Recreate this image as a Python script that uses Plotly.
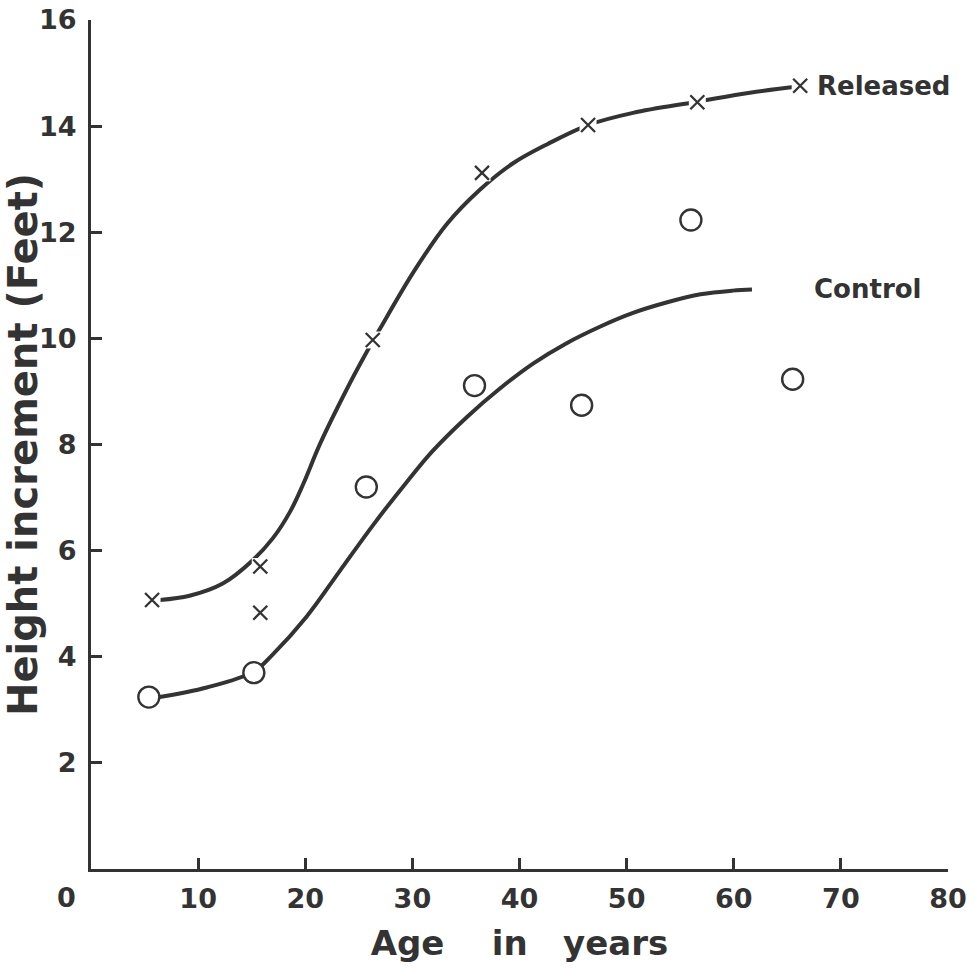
import plotly.graph_objects as go

# ---- data ----
released_x = [5.7, 15.8, 15.8, 26.3, 36.5, 46.4, 56.6, 66.2]
released_y = [5.07, 5.70, 4.83, 9.97, 13.12, 14.02, 14.45, 14.76]

control_x = [5.4, 15.2, 25.7, 35.8, 45.8, 56.0, 65.5]
control_y = [3.24, 3.70, 7.20, 9.11, 8.74, 12.23, 9.23]

released_curve_x = [6.4, 9.2, 12.3, 15.1, 17.0, 18.6, 19.8, 21.4, 23.9, 25.4, 27.0,
                    30.1, 33.2, 36.3, 39.4, 42.6, 46.4, 50.6, 56.6, 61.5, 66.2]
released_curve_y = [5.07, 5.15, 5.38, 5.82, 6.24, 6.74, 7.25, 8.02, 9.05, 9.62, 10.19,
                    11.25, 12.15, 12.80, 13.30, 13.66, 14.02, 14.25, 14.46, 14.63, 14.75]

control_curve_x = [6.4, 10.8, 15.2, 17.0, 20.1, 23.2, 26.4, 29.5, 31.9, 35.1, 38.2,
                   41.3, 44.4, 47.5, 50.6, 53.8, 56.9, 59.9, 61.7]
control_curve_y = [3.24, 3.42, 3.72, 4.05, 4.75, 5.61, 6.50, 7.30, 7.88, 8.52, 9.06,
                   9.53, 9.91, 10.22, 10.48, 10.68, 10.83, 10.90, 10.92]

x_ticks = [10, 20, 30, 40, 50, 60, 70, 80]
y_ticks = [2, 4, 6, 8, 10, 12, 14, 16]

INK = "#333333"
FONT = "DejaVu Sans"

fig = go.Figure()

fig.add_trace(go.Scatter(x=released_curve_x, y=released_curve_y, mode="lines",
                         line=dict(color=INK, width=4, shape="spline", smoothing=1.0),
                         hoverinfo="skip", showlegend=False))
fig.add_trace(go.Scatter(x=control_curve_x, y=control_curve_y, mode="lines",
                         line=dict(color=INK, width=4, shape="spline", smoothing=1.0),
                         hoverinfo="skip", showlegend=False))
# white halo behind crosses (the drawn line is broken at each cross)
fig.add_trace(go.Scatter(x=released_x, y=released_y, mode="markers",
                         marker=dict(symbol="square", size=17, color="white", line=dict(width=0)),
                         hoverinfo="skip", showlegend=False))
fig.add_trace(go.Scatter(x=released_x, y=released_y, mode="markers", name="Released",
                         marker=dict(symbol="x-thin", size=14, line=dict(color=INK, width=2.3)),
                         showlegend=False))
fig.add_trace(go.Scatter(x=control_x, y=control_y, mode="markers", name="Control",
                         marker=dict(symbol="circle", size=21, color="white",
                                     line=dict(color=INK, width=2.4)),
                         showlegend=False))

axis_common = dict(showgrid=False, zeroline=False, showline=True, linecolor=INK, linewidth=3,
                   ticks="inside", ticklen=11, tickwidth=3, tickcolor=INK,
                   tickfont=dict(family=FONT, size=27, color=INK, weight="bold"),
                   mirror=False, automargin=False)

fig.update_layout(
    width=975, height=978,
    margin=dict(l=91, r=27, t=20, b=109),
    paper_bgcolor="white", plot_bgcolor="white",
    xaxis=dict(range=[0, 80], tickvals=x_ticks, ticktext=[str(v) for v in x_ticks],
               ticklabelstandoff=4,
               title=dict(text="Age\u00a0\u00a0\u00a0\u00a0in\u00a0\u00a0\u00a0years",
                          font=dict(family=FONT, size=34, color=INK, weight="bold"),
                          standoff=18),
               **axis_common),
    yaxis=dict(range=[0, 16], tickvals=y_ticks, ticktext=[str(v) for v in y_ticks],
               ticklabelstandoff=6,
               title=dict(text="Height increment (Feet)",
                          font=dict(family=FONT, size=40, color=INK, weight="bold"),
                          standoff=4),
               **axis_common),
    annotations=[
        dict(x=0, y=0, xref="x", yref="y", text="0", showarrow=False,
             xanchor="center", yanchor="middle", xshift=-25, yshift=-28,
             font=dict(family=FONT, size=27, color=INK, weight="bold")),
        dict(x=67.6, y=14.76, xref="x", yref="y", text="Released", showarrow=False,
             xanchor="left", yanchor="middle",
             font=dict(family=FONT, size=26, color=INK, weight="bold")),
        dict(x=67.3, y=10.93, xref="x", yref="y", text="Control", showarrow=False,
             xanchor="left", yanchor="middle",
             font=dict(family=FONT, size=26, color=INK, weight="bold")),
    ],
)

fig.write_html("out.html")
